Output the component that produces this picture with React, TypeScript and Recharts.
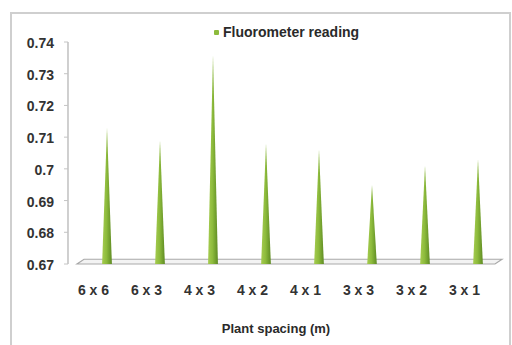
import React from "react";
import { BarChart, Bar, XAxis, YAxis, Legend, ReferenceArea } from "recharts";

const spacings = ["6 x 6", "6 x 3", "4 x 3", "4 x 2", "4 x 1", "3 x 3", "3 x 2", "3 x 1"];
const readings = [0.713, 0.709, 0.736, 0.708, 0.706, 0.695, 0.701, 0.703];
const yTicks = [0.67, 0.68, 0.69, 0.7, 0.71, 0.72, 0.73, 0.74];

const data = spacings.map((s, i) => ({ spacing: s, reading: readings[i] }));

const FONT = "'Liberation Sans', Arial, sans-serif";

// cone-like spike drawn inside the bar's box
function Spike(props: any) {
  const { x, y, width, height } = props;
  if (height <= 0) return null;
  const base = y + height + 3;
  return (
    <path
      d={`M${x},${base} L${x + width / 2},${y} L${x + width},${base} Z`}
      fill="url(#coneFill)"
    />
  );
}

// thin 3D-looking floor under the cones
function Floor(props: any) {
  const { x, y, width, height } = props;
  const pts = [
    [x + 4, y],
    [x + width - 2, y],
    [x + width - 9, y + height],
    [x - 3, y + height],
  ]
    .map((p) => p.join(","))
    .join(" ");
  return <polygon points={pts} fill="#f3f3f3" stroke="#a9a9a9" strokeWidth={1.2} />;
}

function LegendBox() {
  return (
    <div style={{ display: "flex", alignItems: "center", fontFamily: FONT, height: 18 }}>
      <div style={{ width: 5, height: 5, flex: "none", background: "#8dbb3c", borderRadius: 1, marginRight: 4 }} />
      <span style={{ fontSize: 14, fontWeight: 700, color: "#2a2a2a" }}>Fluorometer reading</span>
    </div>
  );
}

function AxisTitle(props: any) {
  const { viewBox } = props;
  return (
    <text
      x={viewBox.x + viewBox.width / 2 - 10}
      y={viewBox.y + 69}
      textAnchor="middle"
      fontFamily={FONT}
      fontSize={13}
      fontWeight={700}
      fill="#2a2a2a"
    >
      Plant spacing (m)
    </text>
  );
}

export default function App() {
  return (
    <div style={{ position: "absolute", left: 0, top: 0, width: 512, height: 345, overflow: "hidden", background: "#fff" }}>
      <div
        style={{
          position: "absolute",
          left: 10,
          top: 12,
          width: 497,
          height: 345,
          border: "2px solid #cfcfcf",
        }}
      />
      <div style={{ position: "absolute", left: 0, top: 0 }}>
        <BarChart
          width={512}
          height={345}
          data={data}
          margin={{ top: 42, right: 8, bottom: 21, left: 18 }}
        >
          <defs>
            <linearGradient id="coneFill" x1="0" y1="0" x2="1" y2="0">
              <stop offset="0%" stopColor="#a6cc50" />
              <stop offset="45%" stopColor="#8dbb3c" />
              <stop offset="100%" stopColor="#5d8a22" />
            </linearGradient>
          </defs>
          <XAxis
            dataKey="spacing"
            axisLine={false}
            tickLine={false}
            interval={0}
            padding={{ left: 12, right: 0 }}
            height={60}
            tickMargin={15}
            tick={{ fontSize: 14, fontWeight: 700, fill: "#333", fontFamily: FONT, dx: -13 }}
            label={{ content: AxisTitle }}
          />
          <YAxis
            width={50}
            domain={[0.67, 0.74]}
            ticks={yTicks}
            interval={0}
            allowDataOverflow
            tickFormatter={(v: number) => String(v)}
            tickSize={4}
            tickMargin={10}
            axisLine={{ stroke: "#b0b0b0", strokeWidth: 1.2 }}
            tickLine={{ stroke: "#c4c4c4" }}
            tick={{ fontSize: 14, fontWeight: 700, fill: "#333", fontFamily: FONT, dy: 1 }}
          />
          <Legend
            verticalAlign="middle"
            align="center"
            wrapperStyle={{ top: 23, left: 214, width: 200 }}
            content={() => <LegendBox />}
          />
          <ReferenceArea y1={0.67} y2={0.6715} ifOverflow="visible" shape={<Floor />} />
          <Bar
            dataKey="reading"
            name="Fluorometer reading"
            barSize={10}
            shape={<Spike />}
            isAnimationActive={false}
          />
        </BarChart>
      </div>
    </div>
  );
}
